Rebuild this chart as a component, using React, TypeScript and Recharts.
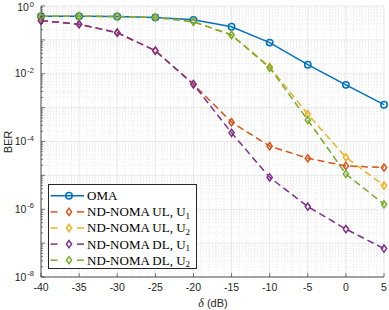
import { CartesianGrid, Legend, Line, LineChart, XAxis, YAxis } from 'recharts'

const deltaDb = [-40, -35, -30, -25, -20, -15, -10, -5, 0, 5]
const omaBer = [0.5, 0.5, 0.49, 0.46, 0.39, 0.245, 0.083, 0.0185, 0.0047, 0.00122]
const ulU1Ber = [0.37, 0.29, 0.163, 0.048, 0.0049, 3.7e-4, 7.3e-5, 3.2e-5, 1.9e-5, 1.7e-5]
const ulU2Ber = [0.5, 0.5, 0.49, 0.46, 0.35, 0.14, 0.016, 6.4e-4, 3.4e-5, 5e-6]
const dlU1Ber = [0.37, 0.29, 0.163, 0.048, 0.0049, 1.8e-4, 8.7e-6, 1.2e-6, 2.6e-7, 6.9e-8]
const dlU2Ber = [0.5, 0.5, 0.49, 0.46, 0.34, 0.139, 0.015, 4.3e-4, 1.1e-5, 1.4e-6]

const xTicks = [-40, -35, -30, -25, -20, -15, -10, -5, 0, 5]
const yMajor = [1e-8, 1e-6, 1e-4, 1e-2, 1]
const yExponents = [-8, -6, -4, -2, 0]

const yMinor: number[] = []
for (let e = -8; e < 0; e++) {
  for (let m = 2; m <= 9; m++) yMinor.push(m * Math.pow(10, e))
}
const yDecades = [-7, -5, -3, -1].map((e) => Math.pow(10, e))
const yAllTicks = [...yMajor, ...yMinor, ...yDecades].sort((a, b) => a - b)
const xMinor: number[] = []
for (let v = -39; v < 5; v++) if (v % 5 !== 0) xMinor.push(v)

const data = deltaDb.map((d, i) => ({
  d,
  oma: omaBer[i],
  ul1: ulU1Ber[i],
  ul2: ulU2Ber[i],
  dl1: dlU1Ber[i],
  dl2: dlU2Ber[i],
}))

const COLORS = {
  oma: '#0072BD',
  ul1: '#D95319',
  ul2: '#EDB120',
  dl1: '#7E2F8E',
  dl2: '#77AC30',
}

const AXIS = '#262626'
const SANS = 'Liberation Sans, Arial, sans-serif'
const SERIF = 'Liberation Serif, Times New Roman, serif'

const series = [
  { key: 'oma', name: 'OMA', sub: '', dashed: false, marker: 'circle' },
  { key: 'ul1', name: 'ND-NOMA UL, U', sub: '1', dashed: true, marker: 'diamond' },
  { key: 'ul2', name: 'ND-NOMA UL, U', sub: '2', dashed: true, marker: 'diamond' },
  { key: 'dl1', name: 'ND-NOMA DL, U', sub: '1', dashed: true, marker: 'diamond' },
  { key: 'dl2', name: 'ND-NOMA DL, U', sub: '2', dashed: true, marker: 'diamond' },
] as const

function Diamond({ cx, cy, color }: { cx: number; cy: number; color: string }) {
  const r = 3.6
  return (
    <path
      d={`M${cx},${cy - r}L${cx + r * 0.72},${cy}L${cx},${cy + r}L${cx - r * 0.72},${cy}Z`}
      fill="none"
      stroke={color}
      strokeWidth={1.5}
    />
  )
}

function makeDot(color: string, marker: string) {
  return (props: any) => {
    const { cx, cy, index } = props
    if (cx == null || cy == null) return <g key={index} />
    if (marker === 'circle')
      return <circle key={index} cx={cx} cy={cy} r={3.2} fill="none" stroke={color} strokeWidth={1.5} />
    return (
      <g key={index}>
        <Diamond cx={cx} cy={cy} color={color} />
      </g>
    )
  }
}

function BottomTick(props: any) {
  const { x, y, payload } = props
  return (
    <g>
      <line x1={x} x2={x} y1={y} y2={y - 4} stroke={AXIS} strokeWidth={0.6} />
      <text x={x} y={y + 14} textAnchor="middle" fontSize={10.5} fontFamily={SANS} fill={AXIS}>
        {payload.value}
      </text>
    </g>
  )
}

function TopTick(props: any) {
  const { x, y } = props
  return <line x1={x} x2={x} y1={y} y2={y + 4} stroke={AXIS} strokeWidth={0.6} />
}

function isDecade(v: number) {
  return Math.abs(Math.log10(v) - Math.round(Math.log10(v))) < 1e-6
}

function LeftTick(props: any) {
  const { x, y, payload } = props
  const v = payload.value
  const len = isDecade(v) ? 4 : 2
  const idx = yMajor.findIndex((m) => Math.abs(Math.log10(v) - Math.log10(m)) < 1e-6)
  const ty = idx === yMajor.length - 1 ? y + 5 : y + 3.6
  return (
    <g>
      <line x1={x} x2={x + len} y1={y} y2={y} stroke={AXIS} strokeWidth={0.6} />
      {idx >= 0 && (
        <text x={x - 7} y={ty} textAnchor="end" fontSize={10.5} fontFamily={SANS} fill={AXIS}>
          10
          <tspan dy={-4.5} dx={1} fontSize={7.5}>
            {yExponents[idx]}
          </tspan>
        </text>
      )}
    </g>
  )
}

function RightTick(props: any) {
  const { x, y, payload } = props
  const len = isDecade(payload.value) ? 4 : 2
  return <line x1={x} x2={x - len} y1={y} y2={y} stroke={AXIS} strokeWidth={0.6} />
}

function LegendBox() {
  return (
    <div
      style={{
        width: 149,
        height: 85,
        border: `1px solid ${AXIS}`,
        background: '#fff',
        boxSizing: 'border-box',
      }}
    >
      <svg width={147} height={83} style={{ overflow: 'visible', display: 'block' }}>
        {series.map((s, i) => {
          const cy = 10.8 + i * 16.1
          const color = (COLORS as any)[s.key]
          return (
            <g key={s.key}>
              {s.dashed ? (
                <>
                  <line x1={1.5} x2={8.5} y1={cy} y2={cy} stroke={color} strokeWidth={1.5} />
                  <line x1={28} x2={35} y1={cy} y2={cy} stroke={color} strokeWidth={1.5} />
                  <Diamond cx={20} cy={cy} color={color} />
                </>
              ) : (
                <>
                  <line x1={1.5} x2={35} y1={cy} y2={cy} stroke={color} strokeWidth={1.5} />
                  <circle cx={20} cy={cy} r={3.2} fill="none" stroke={color} strokeWidth={1.5} />
                </>
              )}
              <text x={38} y={cy + 4.4} fontSize={13} fontFamily={SERIF} fill="#000">
                {s.name}
                {s.sub && (
                  <tspan dy={2.5} fontSize={9}>
                    {s.sub}
                  </tspan>
                )}
              </text>
            </g>
          )
        })}
      </svg>
    </div>
  )
}

export default function App() {
  return (
    <div style={{ position: 'absolute', left: 0, top: 0, width: 389, height: 310, background: '#fff' }}>
      <LineChart width={389} height={310} data={data} margin={{ top: 6, right: 5, bottom: 0, left: 0 }}>
        <CartesianGrid
          horizontalValues={yMinor}
          verticalValues={xMinor}
          stroke="#d6d6d6"
          strokeDasharray="1 2"
          strokeWidth={0.6}
        />
        <CartesianGrid
          horizontalValues={[...yMajor, ...yDecades]}
          verticalValues={xTicks}
          stroke="#e3e3e3"
          strokeWidth={0.8}
        />
        <XAxis
          dataKey="d"
          type="number"
          domain={[-40, 5]}
          ticks={xTicks}
          interval={0}
          height={33}
          tickSize={0}
          tickMargin={0}
          tickLine={false}
          axisLine={{ stroke: AXIS, strokeWidth: 0.8 }}
          tick={<BottomTick />}
        />
        <XAxis
          xAxisId="top"
          orientation="top"
          dataKey="d"
          type="number"
          domain={[-40, 5]}
          ticks={xTicks}
          interval={0}
          height={0}
          tickSize={0}
          tickLine={false}
          axisLine={{ stroke: AXIS, strokeWidth: 0.8 }}
          tick={<TopTick />}
        />
        <YAxis
          scale="log"
          domain={[1e-8, 1]}
          allowDataOverflow
          ticks={yAllTicks}
          interval={0}
          width={41}
          tickSize={0}
          tickMargin={0}
          tickLine={false}
          axisLine={{ stroke: AXIS, strokeWidth: 0.8 }}
          tick={<LeftTick />}
        />
        <YAxis
          yAxisId="right"
          orientation="right"
          scale="log"
          domain={[1e-8, 1]}
          allowDataOverflow
          ticks={yAllTicks}
          interval={0}
          width={0}
          tickSize={0}
          tickLine={false}
          axisLine={{ stroke: AXIS, strokeWidth: 0.8 }}
          tick={<RightTick />}
        />
        {series.map((s) => {
          const color = (COLORS as any)[s.key]
          return (
            <Line
              key={s.key}
              dataKey={s.key}
              name={s.name + s.sub}
              stroke={color}
              strokeWidth={1.5}
              strokeDasharray={s.dashed ? '7 4' : undefined}
              dot={makeDot(color, s.marker)}
              activeDot={false}
              isAnimationActive={false}
            />
          )
        })}
        <Legend
          layout="vertical"
          align="center"
          verticalAlign="middle"
          content={() => <LegendBox />}
          wrapperStyle={{ position: 'absolute', left: 48, top: 184, width: 149, height: 85 }}
        />
      </LineChart>
      <div
        style={{
          position: 'absolute',
          left: 8,
          top: 142,
          transform: 'translate(-50%, -50%) rotate(-90deg)',
          fontFamily: SANS,
          fontSize: 11,
          color: AXIS,
          whiteSpace: 'nowrap',
        }}
      >
        BER
      </div>
      <div
        style={{
          position: 'absolute',
          left: 213,
          top: 303,
          transform: 'translate(-50%, -50%)',
          fontFamily: SANS,
          fontSize: 11,
          color: AXIS,
          whiteSpace: 'nowrap',
        }}
      >
        <span style={{ fontFamily: SERIF, fontStyle: 'italic', fontSize: 12 }}>δ</span> (dB)
      </div>
    </div>
  )
}
